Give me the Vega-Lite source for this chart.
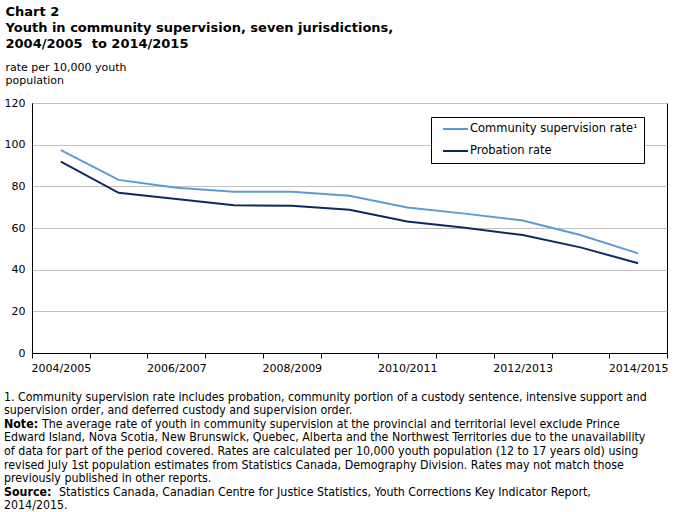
{
  "$schema": "https://vega.github.io/schema/vega-lite/v6.json",
  "padding": {"left": 3, "top": 5, "right": 2, "bottom": 2},
  "background": "white",
  "title": {
    "text": ["Chart 2", "Youth in community supervision, seven jurisdictions,", "2004/2005\u00a0 to 2014/2015"],
    "subtitle": ["rate per 10,000 youth", "population"],
    "anchor": "start",
    "frame": "bounds",
    "font": "DejaVu Sans",
    "fontSize": 13,
    "fontWeight": "bold",
    "color": "black",
    "lineHeight": 16,
    "subtitleFont": "DejaVu Sans",
    "subtitleFontSize": 11,
    "subtitleColor": "black",
    "subtitleLineHeight": 13,
    "subtitlePadding": 11,
    "offset": 11,
    "dx": 2
  },
  "config": {"view": {"stroke": null}, "font": "DejaVu Sans"},
  "spacing": 16,
  "vconcat": [
    {
      "width": 635,
      "height": 250,
      "view": {"stroke": "black", "strokeWidth": 1},
      "data": {
        "values": [
          {"period": "2004/2005", "series": "Community supervision rate¹", "rate": 97.4},
          {"period": "2005/2006", "series": "Community supervision rate¹", "rate": 83.1},
          {"period": "2006/2007", "series": "Community supervision rate¹", "rate": 79.3},
          {"period": "2007/2008", "series": "Community supervision rate¹", "rate": 77.4},
          {"period": "2008/2009", "series": "Community supervision rate¹", "rate": 77.4},
          {"period": "2009/2010", "series": "Community supervision rate¹", "rate": 75.5},
          {"period": "2010/2011", "series": "Community supervision rate¹", "rate": 69.8},
          {"period": "2011/2012", "series": "Community supervision rate¹", "rate": 66.9},
          {"period": "2012/2013", "series": "Community supervision rate¹", "rate": 63.6},
          {"period": "2013/2014", "series": "Community supervision rate¹", "rate": 56.6},
          {"period": "2014/2015", "series": "Community supervision rate¹", "rate": 47.8},
          {"period": "2004/2005", "series": "Probation rate", "rate": 91.9},
          {"period": "2005/2006", "series": "Probation rate", "rate": 76.9},
          {"period": "2006/2007", "series": "Probation rate", "rate": 73.9},
          {"period": "2007/2008", "series": "Probation rate", "rate": 70.9},
          {"period": "2008/2009", "series": "Probation rate", "rate": 70.7},
          {"period": "2009/2010", "series": "Probation rate", "rate": 68.8},
          {"period": "2010/2011", "series": "Probation rate", "rate": 63.1},
          {"period": "2011/2012", "series": "Probation rate", "rate": 60.1},
          {"period": "2012/2013", "series": "Probation rate", "rate": 56.6},
          {"period": "2013/2014", "series": "Probation rate", "rate": 50.7},
          {"period": "2014/2015", "series": "Probation rate", "rate": 43.1}
        ]
      },
      "mark": {"type": "line", "strokeWidth": 2},
      "encoding": {
        "x": {
          "field": "period",
          "type": "ordinal",
          "sort": null,
          "scale": {"type": "band", "paddingInner": 0, "paddingOuter": 0},
          "axis": {
            "title": null,
            "labelAngle": 0,
            "labelExpr": "test(/^20(04|06|08|10|12|14)\\//, datum.value) ? datum.value : ''",
            "tickBand": "extent",
            "tickColor": "black",
            "tickSize": 5,
            "domainColor": "black",
            "labelColor": "black",
            "labelFontSize": 11,
            "labelPadding": 4,
            "grid": false
          }
        },
        "y": {
          "field": "rate",
          "type": "quantitative",
          "scale": {"domain": [0, 120], "nice": false},
          "axis": {
            "title": null,
            "values": [0, 20, 40, 60, 80, 100, 120],
            "grid": true,
            "gridColor": "#c0c0c0",
            "ticks": false,
            "tickSize": 0,
            "domainColor": "black",
            "labelColor": "black",
            "labelFontSize": 11,
            "labelPadding": 7
          }
        },
        "color": {
          "field": "series",
          "type": "nominal",
          "scale": {
            "domain": ["Community supervision rate¹", "Probation rate"],
            "range": ["#5b9bd5", "#0d2a5e"]
          },
          "legend": {
            "title": null,
            "orient": "none",
            "legendX": 399,
            "legendY": 14,
            "strokeColor": "black",
            "fillColor": "white",
            "padding": 6,
            "symbolType": "M0,0H5",
            "symbolSize": 100,
            "symbolStrokeWidth": 2,
            "symbolFillColor": "transparent",
            "labelFontSize": 11.5,
            "labelColor": "black",
            "labelOffset": 21,
            "labelLimit": 300,
            "rowPadding": 10
          }
        }
      }
    },
    {
      "width": 660,
      "height": 122,
      "data": {
        "values": [
          {"line": 1, "part": "plain", "text": "1. Community supervision rate includes probation, community portion of a custody sentence, intensive support and"},
          {"line": 2, "part": "plain", "text": "supervision order, and deferred custody and supervision order."},
          {"line": 3, "part": "label", "text": "Note:"},
          {"line": 3, "part": "noteBody", "text": "The average rate of youth in community supervision at the provincial and territorial level exclude Prince"},
          {"line": 4, "part": "plain", "text": "Edward Island, Nova Scotia, New Brunswick, Quebec, Alberta and the Northwest Territories due to the unavailability"},
          {"line": 5, "part": "plain", "text": "of data for part of the period covered. Rates are calculated per 10,000 youth population (12 to 17 years old) using"},
          {"line": 6, "part": "plain", "text": "revised July 1st population estimates from Statistics Canada, Demography Division. Rates may not match those"},
          {"line": 7, "part": "plain", "text": "previously published in other reports."},
          {"line": 8, "part": "label", "text": "Source:"},
          {"line": 8, "part": "sourceBody", "text": "Statistics Canada, Canadian Centre for Justice Statistics, Youth Corrections Key Indicator Report,"},
          {"line": 9, "part": "plain", "text": "2014/2015."}
        ]
      },
      "encoding": {
        "y": {"field": "line", "type": "ordinal", "axis": null},
        "x": {"value": 0},
        "text": {"field": "text"}
      },
      "layer": [
        {
          "transform": [{"filter": "datum.part == 'plain'"}],
          "mark": {"type": "text", "align": "left", "baseline": "middle", "font": "DejaVu Sans Condensed", "fontSize": 12.3, "color": "black", "dx": -28}
        },
        {
          "transform": [{"filter": "datum.part == 'label'"}],
          "mark": {"type": "text", "align": "left", "baseline": "middle", "font": "DejaVu Sans Condensed", "fontWeight": "bold", "fontSize": 12.3, "color": "black", "dx": -28}
        },
        {
          "transform": [{"filter": "datum.part == 'noteBody'"}],
          "mark": {"type": "text", "align": "left", "baseline": "middle", "font": "DejaVu Sans Condensed", "fontSize": 12.3, "color": "black", "dx": 10}
        },
        {
          "transform": [{"filter": "datum.part == 'sourceBody'"}],
          "mark": {"type": "text", "align": "left", "baseline": "middle", "font": "DejaVu Sans Condensed", "fontSize": 12.3, "color": "black", "dx": 27}
        }
      ]
    }
  ]
}
